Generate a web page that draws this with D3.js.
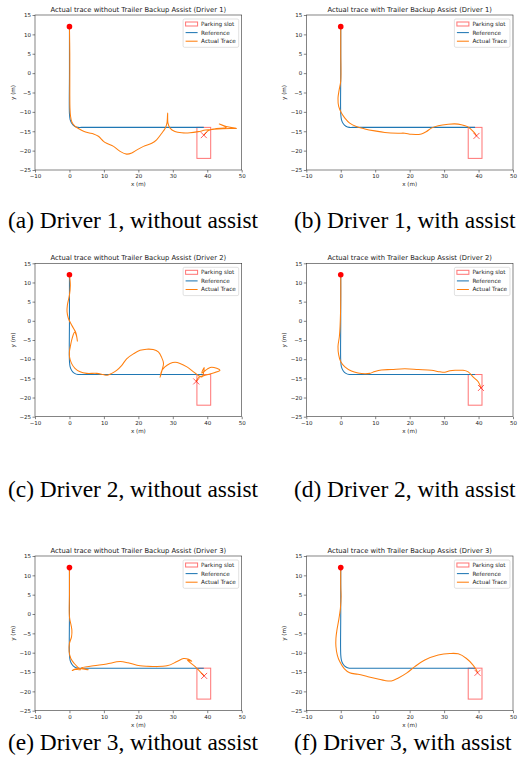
<!DOCTYPE html>
<html>
<head>
<meta charset="utf-8">
<script src="https://cdn.jsdelivr.net/npm/d3@7"></script>
<style>
  body { margin: 0; background: #fff; }
  svg { display: block; }
  .tick text { font-family: "DejaVu Sans", sans-serif; }
</style>
</head>
<body>
<svg id="chart" width="518" height="777"></svg>
<script>
// ---- data ----
const xTicks = [-10, 0, 10, 20, 30, 40, 50];
const yTicks = [15, 10, 5, 0, -5, -10, -15, -20, -25];

const titles = [
  'Actual trace without Trailer Backup Assist (Driver 1)',
  'Actual trace with Trailer Backup Assist (Driver 1)',
  'Actual trace without Trailer Backup Assist (Driver 2)',
  'Actual trace with Trailer Backup Assist (Driver 2)',
  'Actual trace without Trailer Backup Assist (Driver 3)',
  'Actual trace with Trailer Backup Assist (Driver 3)'
];
const captions = [
  '(a) Driver 1, without assist', '(b) Driver 1, with assist',
  '(c) Driver 2, without assist', '(d) Driver 2, with assist',
  '(e) Driver 3, without assist', '(f) Driver 3, with assist'
];
const legendLabels = ['Parking slot', 'Reference', 'Actual Trace'];

const startPoint = [0, 12];
const slotX = [37, 41];
const slotY = [-14, -22];

const reference = [[0, 12], [0, 0], [0, -10.5], [0.2, -12], [0.7, -13], [1.5, -13.7], [2.5, -14], [3.5, -14], [20, -14], [39, -14]];

const traceA = [[0, 12], [0.1, 5], [0.1, -5], [0.15, -9], [0.3, -11], [0.7, -12.6], [1.5, -13.6], [2.6, -14.3], [4.1, -15.0],
  [5.5, -15.4], [7, -15.7], [8.4, -16.3], [9.9, -17.6], [10.8, -18.1], [12.8, -18.9], [14.7, -20.2], [16.6, -20.9],
  [18.1, -20.6], [19.6, -19.8], [21.5, -18.9], [23.9, -18.1], [25.3, -17.2], [26.8, -15.5], [27.8, -14.2], [28.3, -12.9],
  [28.5, -10.3], [28.6, -12.9], [29.2, -14.2], [30.6, -15.05], [32.6, -15.4], [35, -15.4], [37.4, -15.1], [39.5, -14.7],
  [42, -14.5], [46.6, -14.3], [48.5, -14.3], [45.5, -13.8], [43.5, -13.1], [45.5, -14.0], [42, -14.4], [40.2, -14.9], [39, -16]];

const traceB = [[0, 12], [0, 5], [0, -2], [-0.5, -4.5], [-0.8, -6.5], [-0.6, -8.6], [0.2, -10.3], [1.2, -11.6], [2.6, -12.9],
  [4.5, -13.8], [7, -14.4], [9.9, -14.9], [12.8, -15.3], [16.6, -15.5], [18.6, -15.5], [20.5, -15.8], [23.4, -15.7],
  [24.9, -15.05], [26.3, -14.2], [28.3, -13.6], [31.2, -13.2], [33.1, -13.1], [35, -13.3], [36.8, -13.8], [37.9, -14.6],
  [38.9, -15.5], [39.4, -16.2]];

const traceC = [[0, 12], [0.25, 9.3], [0, 6.7], [-0.6, 4.1], [-0.7, 2.4], [-0.3, 0.6], [0.4, -0.7], [1.2, -2], [1.9, -3.2],
  [2.3, -5.3], [2.0, -3.8], [1.5, -3.0], [0.8, -4.5], [0.3, -6.5], [0, -8], [0, -9.3], [0.6, -11.1], [1.6, -12.4],
  [3.1, -13.3], [5, -13.7], [7.9, -13.7], [9.8, -14], [11, -14.2], [12.3, -13.7], [13.7, -12.9], [15.2, -11.6],
  [16.6, -9.9], [18.6, -8.6], [20.5, -7.7], [22.4, -7.4], [24.3, -7.5], [25.8, -8.1], [26.7, -9.4], [27.3, -11.1],
  [26.9, -12.8], [26.3, -14.8], [26.8, -13], [27.7, -12], [29.2, -11.1], [30.7, -10.8], [32.1, -11.1], [34.1, -12],
  [36, -13.3], [37.5, -14.3], [38.5, -14.6], [39.1, -12.2], [38.4, -13.6], [40, -12.6], [41.3, -12.1], [43.7, -12.9],
  [41, -13.8], [39, -14.3], [37.5, -14.8], [36.8, -15.8]];

const traceD = [[0, 12], [0, 5.4], [-0.2, -1.5], [-0.4, -4.1], [-0.8, -6.7], [-0.6, -8.9], [0, -10.7], [1.2, -12], [3.1, -13.1],
  [5, -13.6], [7, -13.8], [8.4, -13.7], [9.9, -13.2], [11.8, -12.8], [14.7, -12.7], [18.6, -12.5], [22.5, -12.7],
  [26.3, -12.9], [28.8, -13.3], [30.2, -13.4], [31.7, -13], [33.6, -12.9], [35.5, -12.9], [37, -13.3], [38.4, -14.6],
  [39.9, -15.9], [40.7, -17.5]];

const traceE = [[0, 12], [0, 5], [0, -0.7], [0.7, -4.1], [0.6, -5.9], [0, -7.6], [-0.1, -9.7], [0.4, -11.5], [1.4, -12.8],
  [2.6, -13.9], [3.2, -14.4], [1.5, -14.3], [0.8, -14.6], [2.5, -14.1], [5.5, -14.4], [3.5, -13.9], [7, -13.4],
  [10.8, -12.9], [14.7, -12.3], [17, -12.6], [20.5, -13.4], [25.4, -13.6], [22, -13.5], [28.3, -13.4], [31.2, -12.3],
  [33.1, -11.5], [34.6, -11.7], [35.5, -12.2], [34.2, -11.9], [36.5, -13.6], [37.9, -14.9], [39.1, -16]];

const traceF = [[0, 12], [0, 7.1], [0.1, 4.5], [-0.1, 1.5], [-0.6, -1.6], [-1.1, -4.1], [-1.4, -6.3], [-1.4, -8.4], [-1, -10.6],
  [-0.3, -12.3], [1, -14.1], [2.6, -15.2], [5, -15.6], [7.9, -16.2], [10.8, -16.8], [12.8, -17.2], [14.7, -17.3],
  [16.6, -16.6], [19.1, -15.3], [21.5, -13.6], [24.4, -11.9], [28.3, -10.6], [31.7, -10.2], [34.1, -10.3], [36.5, -11.5],
  [38.4, -13.2], [39.4, -14.5], [39.7, -15.2]];

const traces = [traceA, traceB, traceC, traceD, traceE, traceF];

// ---- layout ----
const colX = [[35, 241.7], [306.3, 513]];
const rowY = [[15, 170], [263.3, 416.7], [556, 710.7]];
const captionY = [228, 497, 750];
const captionLeft = [8, 294];

const BLUE = '#1f77b4', ORANGE = '#ff7f0e', RED = '#ff0000';
const svg = d3.select('#chart');

function drawPanel(i) {
  const col = i % 2, row = Math.floor(i / 2);
  const [x0, x1] = colX[col];
  const [y0, y1] = rowY[row];

  const x = d3.scaleLinear().domain([-10, 50]).range([x0, x1]);
  const y = d3.scaleLinear().domain([-25, 15]).range([y1, y0]);

  const g = svg.append('g');

  // axes
  const fmt = d => d < 0 ? '\u2212' + (-d) : d;
  const xAxis = g.append('g')
    .attr('transform', 'translate(0,' + y1 + ')')
    .call(d3.axisBottom(x).tickValues(xTicks).tickSize(2.5).tickPadding(1.5).tickFormat(fmt));
  const yAxis = g.append('g')
    .attr('transform', 'translate(' + x0 + ',0)')
    .call(d3.axisLeft(y).tickValues(yTicks).tickSize(2.5).tickPadding(1.5).tickFormat(fmt));
  [xAxis, yAxis].forEach(a => {
    a.select('.domain').remove();
    a.selectAll('line').attr('stroke', '#333').attr('stroke-width', 0.6);
    a.selectAll('text').attr('font-size', 5.5).attr('fill', '#222');
  });

  // frame
  g.append('rect')
    .attr('x', x0).attr('y', y0)
    .attr('width', x1 - x0).attr('height', y1 - y0)
    .attr('fill', 'none').attr('stroke', '#333').attr('stroke-width', 0.6);

  // clip for data
  const clipId = 'clip' + i;
  g.append('clipPath').attr('id', clipId)
    .append('rect').attr('x', x0).attr('y', y0).attr('width', x1 - x0).attr('height', y1 - y0);
  const plot = g.append('g').attr('clip-path', 'url(#' + clipId + ')');

  // parking slot
  plot.append('rect')
    .attr('x', x(slotX[0])).attr('y', y(slotY[0]))
    .attr('width', x(slotX[1]) - x(slotX[0]))
    .attr('height', y(slotY[1]) - y(slotY[0]))
    .attr('fill', 'none').attr('stroke', RED).attr('stroke-opacity', 0.55).attr('stroke-width', 1);

  const line = d3.line().x(d => x(d[0])).y(d => y(d[1])).curve(d3.curveCatmullRom.alpha(0.5));

  plot.append('path').datum(reference)
    .attr('d', line).attr('fill', 'none').attr('stroke', BLUE).attr('stroke-width', 1.05);

  const tr = traces[i];
  plot.append('path').datum(tr)
    .attr('d', line).attr('fill', 'none').attr('stroke', ORANGE).attr('stroke-width', 1.05);

  // start point
  plot.append('circle')
    .attr('cx', x(startPoint[0])).attr('cy', y(startPoint[1]))
    .attr('r', 2.8).attr('fill', RED);

  // end marker
  const end = tr[tr.length - 1];
  const s = 3;
  plot.append('path')
    .attr('d', 'M' + (x(end[0]) - s) + ',' + (y(end[1]) - s) + 'L' + (x(end[0]) + s) + ',' + (y(end[1]) + s) +
               'M' + (x(end[0]) - s) + ',' + (y(end[1]) + s) + 'L' + (x(end[0]) + s) + ',' + (y(end[1]) - s))
    .attr('stroke', RED).attr('stroke-opacity', 0.8).attr('stroke-width', 0.8).attr('fill', 'none');

  // title
  g.append('text')
    .attr('x', (x0 + x1) / 2).attr('y', y0 - 3.5)
    .attr('text-anchor', 'middle')
    .attr('font-family', 'DejaVu Sans, sans-serif').attr('font-size', 6.8).attr('fill', '#222')
    .text(titles[i]);

  // axis labels
  g.append('text')
    .attr('x', (x0 + x1) / 2).attr('y', y1 + 16)
    .attr('text-anchor', 'middle')
    .attr('font-family', 'DejaVu Sans, sans-serif').attr('font-size', 5.6).attr('fill', '#222')
    .text('x (m)');
  g.append('text')
    .attr('transform', 'translate(' + (x0 - 20) + ',' + ((y0 + y1) / 2) + ') rotate(-90)')
    .attr('text-anchor', 'middle')
    .attr('font-family', 'DejaVu Sans, sans-serif').attr('font-size', 5.6).attr('fill', '#222')
    .text('y (m)');

  // legend
  const lw = 55.6, lh = 28.3;
  const lx = x1 - 3 - lw, ly = y0 + 4;
  const lg = g.append('g').attr('transform', 'translate(' + lx + ',' + ly + ')');
  lg.append('rect').attr('width', lw).attr('height', lh).attr('rx', 1.5)
    .attr('fill', '#fff').attr('fill-opacity', 0.8).attr('stroke', '#ccc').attr('stroke-width', 0.6);
  legendLabels.forEach((lab, k) => {
    const cy = 5 + k * 8.6;
    if (k === 0) {
      lg.append('rect').attr('x', 2.5).attr('y', cy - 2).attr('width', 12).attr('height', 4)
        .attr('fill', 'none').attr('stroke', RED).attr('stroke-opacity', 0.55).attr('stroke-width', 1);
    } else {
      lg.append('line').attr('x1', 2.5).attr('x2', 14.5).attr('y1', cy).attr('y2', cy)
        .attr('stroke', k === 1 ? BLUE : ORANGE).attr('stroke-width', 1.05);
    }
    lg.append('text').attr('x', 18).attr('y', cy + 2)
      .attr('font-family', 'DejaVu Sans, sans-serif').attr('font-size', 5.7).attr('fill', '#222')
      .text(lab);
  });

  // caption
  svg.append('text')
    .attr('x', captionLeft[col]).attr('y', captionY[row])
    .attr('font-family', 'Liberation Serif, Times New Roman, serif').attr('font-size', 23.4).attr('fill', '#000')
    .text(captions[i]);
}

for (let i = 0; i < 6; i++) drawPanel(i);
</script>
</body>
</html>
